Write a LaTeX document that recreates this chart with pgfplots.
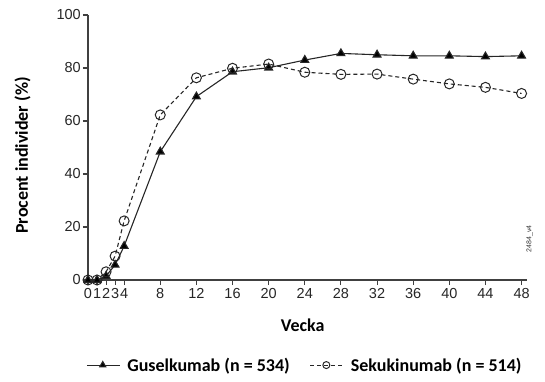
\documentclass[border=0pt]{standalone}
\usepackage{fontspec}
\setmainfont{Liberation Sans}
\newfontfamily\calib{Carlito}
\usepackage{pgfplots}
\pgfplotsset{compat=1.18}
\begin{document}
\begin{tikzpicture}
\begin{axis}[
  at={(0,0)}, anchor=south west,
  scale only axis, width=439pt, height=265pt,
  xmin=0, xmax=48.6, ymin=0, ymax=100,
  axis lines=left, axis line style={-, line width=1.1pt, color=black!75},
  xtick={0,1,2,3,4,8,12,16,20,24,28,32,36,40,44,48},
  ytick={0,20,40,60,80,100},
  tick style={line width=1.1pt, color=black!75},
  tick align=outside, major tick length=5pt,
  tick label style={font=\fontsize{14.5}{16}\selectfont, color=black!85},
  xticklabel style={inner sep=1pt, yshift=-2pt},
  yticklabel style={inner sep=2pt},
  /pgf/number format/assume math mode=true,
  xlabel={Vecka}, ylabel={Procent individer (\%)},
  label style={font=\calib\bfseries\fontsize{18}{20}\selectfont},
  xlabel style={at={(axis description cs:0.489,-0.170)}, anchor=center},
  ylabel style={at={(axis description cs:-0.149,0.47)}, anchor=center, rotate=0},
  legend columns=2,
  legend style={at={(0.494,-0.321)}, anchor=center, draw=none, fill=none,
    font=\calib\bfseries\fontsize{18}{20}\selectfont,
    /tikz/every odd column/.append style={column sep=5pt},
    /tikz/every even column/.append style={column sep=18pt}},
  legend image code/.code={\draw[mark repeat=2,mark phase=2, mark size=3.5pt] plot coordinates {(0pt,0pt) (16pt,0pt) (33pt,0pt)};},
  clip=false,
]
\addplot[black!85, line width=1.1pt, mark=triangle*, mark size=4.5pt, mark options={solid, fill=black}]
  coordinates {(0,0) (1,0) (2,1.5) (3,5.7) (4,12.8) (8,48.4) (12,69.2) (16,78.6) (20,80.1) (24,83) (28,85.5) (32,85) (36,84.6) (40,84.6) (44,84.3) (48,84.6)};
\addlegendentry{Guselkumab (n = 534)}
\addplot[black!85, line width=1.1pt, dash pattern=on 4pt off 3pt, mark=o, mark size=5pt, mark options={solid, fill=white, line width=1pt}]
  coordinates {(0,0) (1,0) (2,3.1) (3,9) (4,22.3) (8,62.3) (12,76.3) (16,79.9) (20,81.5) (24,78.4) (28,77.6) (32,77.7) (36,75.8) (40,74) (44,72.7) (48,70.4)};
\addlegendentry{Sekukinumab (n = 514)}
\node[rotate=90, font=\fontsize{7}{8}\selectfont, color=black!80] at (axis cs:48.9,15.5) {2484\_v4};
\end{axis}
\path[use as bounding box] (-88pt,-101pt) rectangle (457pt,280pt);
\end{tikzpicture}
\end{document}
